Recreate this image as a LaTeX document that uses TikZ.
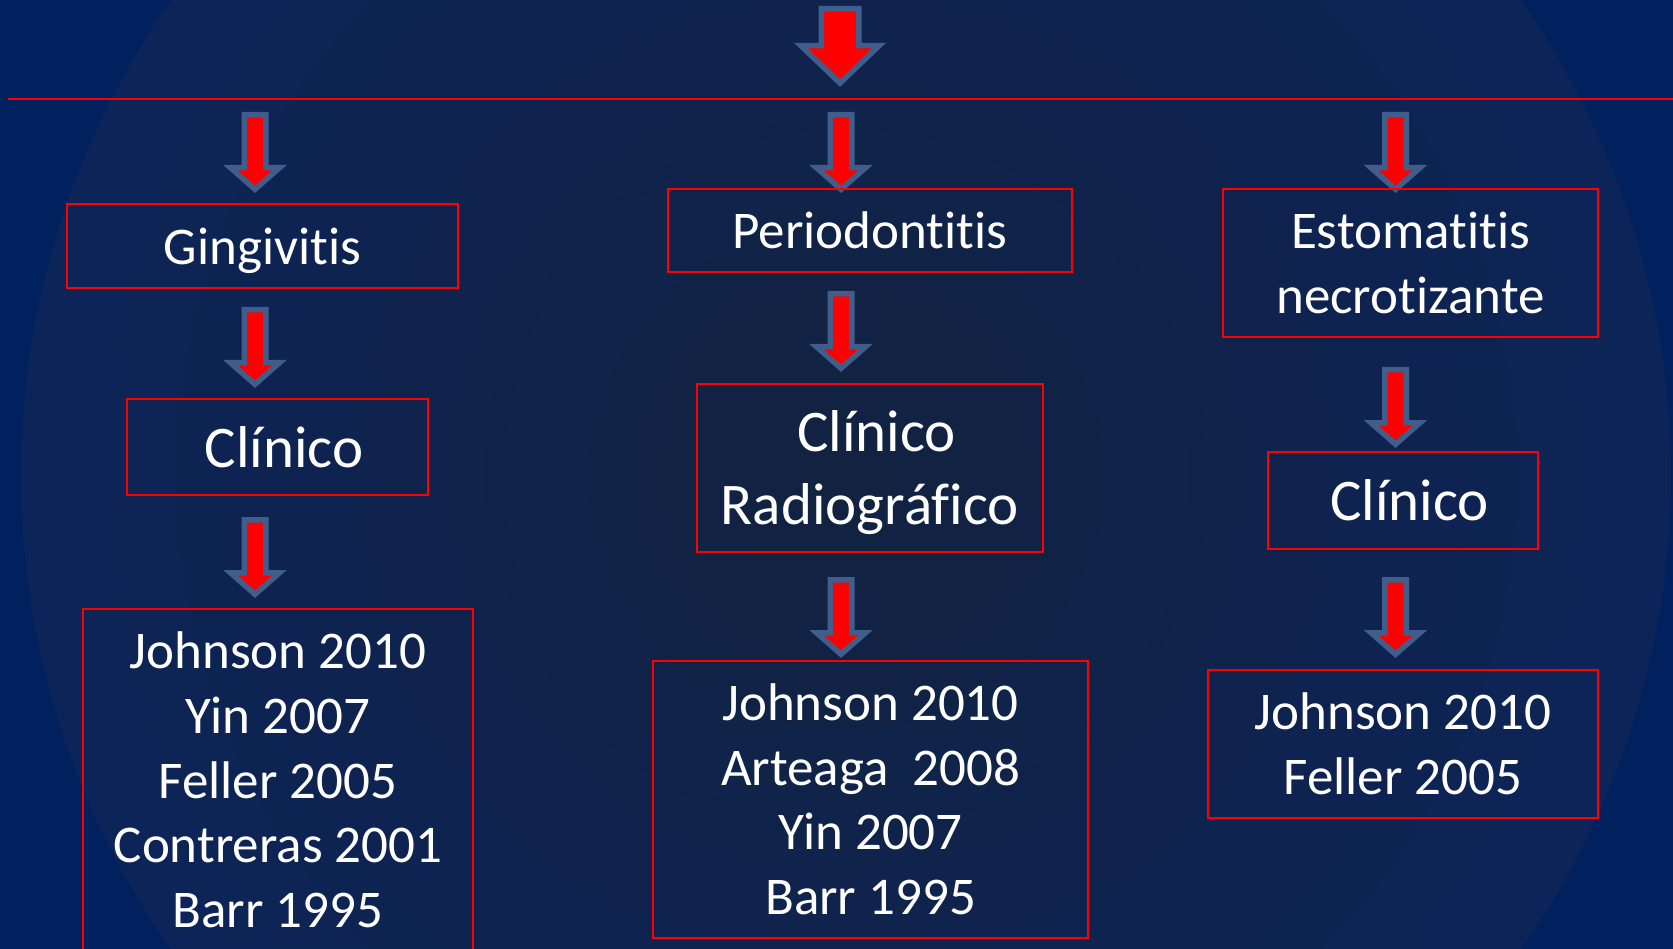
\documentclass[tikz,border=0pt]{standalone}
\usepackage{fontspec}
\setmainfont{Carlito}[Ligatures=NoCommon]

\definecolor{slideout}{RGB}{0,33,94}
\definecolor{sliderim}{RGB}{12,36,88}
\definecolor{slidein}{RGB}{18,34,64}
\definecolor{arrowrim}{RGB}{64,94,140}

% strut with the line box of the slide font
\newcommand{\pptline}{\rule[-0.269em]{0pt}{1.221em}}

\tikzset{
  catbox/.style={draw=red, line width=2pt, text=white, align=center, inner sep=0pt,
    font=\fontsize{53}{64.7}\selectfont},
  bigbox/.style={catbox, font=\fontsize{59}{72}\selectfont},
  pics/downarrow/.style n args={4}{code={
    \draw[draw=arrowrim, fill=red, line width=5.5pt]
      (-#1,2.75) -- (#1,2.75) -- (#1,#3) -- (#2,#3) -- (0,#4)
      -- (-#2,#3) -- (-#1,#3) -- cycle;
  }}
}

\begin{document}
\begin{tikzpicture}[x=1pt, y=-1pt]

\clip (0,0) rectangle (1673,949);
\fill[slideout] (0,0) rectangle (1673,949);
\shade[inner color=slidein, outer color=sliderim] (846,475) circle (825);

\coordinate (ruleL) at (8,99);
\coordinate (ruleR) at (1673,99);

\pic at (840,6) {downarrow={18.75}{39}{39.75}{77}};
\draw[red, line width=2.5pt] (ruleL) -- (ruleR);

\foreach \ax/\ay in {255/112, 255/307, 255/517,
                     841/112, 841/291, 841/577,
                     1395.5/112, 1395.5/367, 1395.5/577}
    \pic at (\ax,\ay) {downarrow={10.75}{24.5}{55.75}{77.3}};

% left column
\node[catbox, minimum width=391pt, minimum height=84pt] (ging) at (262.5,246)
    {\pptline Gingivitis};
\node[bigbox, minimum width=301pt, minimum height=96pt] (clinL) at (277.5,447)
    {\pptline\ Clínico};
\node[catbox, minimum width=390pt, minimum height=342pt] (refsL) at (278,780)
    {\pptline Johnson 2010\\Yin 2007\\Feller 2005\\Contreras 2001\\Barr 1995\pptline};

% middle column
\node[catbox, minimum width=404pt, minimum height=83pt] (perio) at (870,230.5)
    {\pptline Periodontitis};
\node[bigbox, minimum width=346pt, minimum height=168pt] (clinM) at (870,468)
    {\pptline\ Clínico\\Radiográfico\pptline};
\node[catbox, minimum width=435pt, minimum height=277pt] (refsM) at (870.5,799.5)
    {\pptline Johnson 2010\\Arteaga\ \ 2008\\Yin 2007\\Barr 1995\pptline};

% right column
\node[catbox, minimum width=375pt, minimum height=148pt] (esto) at (1410.5,263)
    {\pptline Estomatitis\\necrotizante\pptline};
\node[bigbox, minimum width=270pt, minimum height=97pt] (clinR) at (1403,500.5)
    {\pptline\ Clínico};
\node[catbox, minimum width=390pt, minimum height=148pt] (refsR) at (1403,744)
    {\pptline Johnson 2010\\Feller 2005\pptline};

\end{tikzpicture}
\end{document}
